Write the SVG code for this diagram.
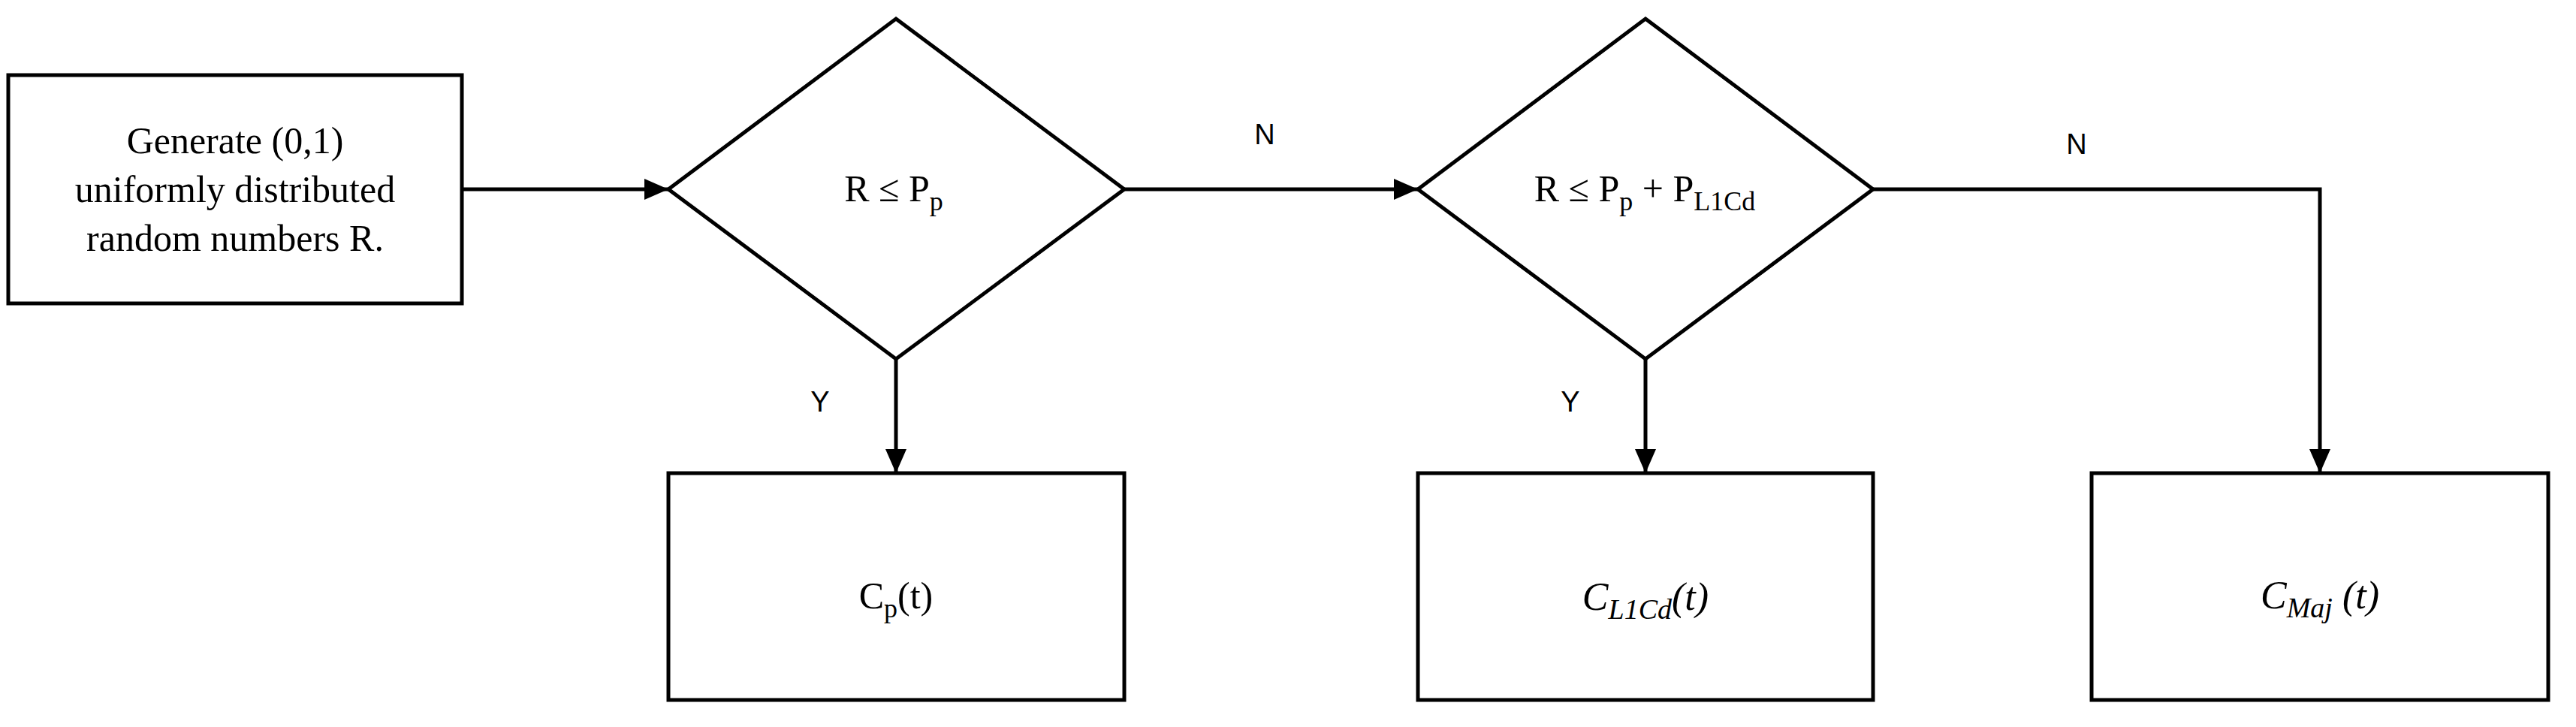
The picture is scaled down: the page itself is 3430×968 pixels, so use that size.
<svg xmlns="http://www.w3.org/2000/svg" width="3430" height="968" viewBox="0 0 3430 968">
<style>
.n{fill:#fff;stroke:#000;stroke-width:5}
.t{font-family:"Liberation Serif",serif;font-size:50px;text-anchor:middle;fill:#000}
.m{font-family:"Liberation Serif",serif;font-style:italic;font-size:52px;text-anchor:middle;fill:#000}
.l{font-family:"Liberation Sans",sans-serif;font-size:38px;text-anchor:middle;fill:#000}
.c{fill:none;stroke:#000;stroke-width:5}
</style>
<defs><marker id="a" markerWidth="10" markerHeight="10" refX="10" refY="5" orient="auto" markerUnits="userSpaceOnUse" viewBox="0 0 10 10"><path d="M0,0L10,5L0,10z" fill="#000"/></marker>
<marker id="b" viewBox="0 0 10 10" refX="10" refY="5" markerWidth="32" markerHeight="28" orient="auto" markerUnits="userSpaceOnUse" preserveAspectRatio="none"><path d="M0,0L10,5L0,10z" fill="#000"/></marker></defs>
<g id="connectors">
<path class="c" d="M615,252H890" marker-end="url(#b)"/>
<path class="c" d="M1497,252H1888" marker-end="url(#b)"/>
<path class="c" d="M1193,478V630" marker-end="url(#b)"/>
<path class="c" d="M2191,478V630" marker-end="url(#b)"/>
<path class="c" d="M2494,252H3089V630" marker-end="url(#b)"/>
<text class="l" x="1684" y="192">N</text>
<text class="l" x="2765" y="205">N</text>
<text class="l" x="1092" y="548">Y</text>
<text class="l" x="2091" y="548">Y</text>
</g>
<g id="gen"><rect class="n" x="11" y="100" width="604" height="304"/>
<text class="t" x="313" y="204">Generate (0,1)</text>
<text class="t" x="313" y="269">uniformly distributed</text>
<text class="t" x="313" y="334">random numbers R.</text></g>
<g id="d1"><path class="n" d="M1193,25L1497,252L1193,478L890,252Z"/>
<text class="t" x="1190" y="268">R ≤ P<tspan font-size="36" dy="12">p</tspan></text></g>
<g id="d2"><path class="n" d="M2191,25L2494,252L2191,478L1888,252Z"/>
<text class="t" x="2190" y="268">R ≤ P<tspan font-size="36" dy="12">p</tspan><tspan dy="-12"> + P</tspan><tspan font-size="36" dy="12">L1Cd</tspan></text></g>
<g id="cp"><rect class="n" x="890" y="630" width="607" height="302"/>
<text class="t" x="1193" y="810">C<tspan font-size="36" dy="12">p</tspan><tspan dy="-12">(t)</tspan></text></g>
<g id="cl"><rect class="n" x="1888" y="630" width="606" height="302"/>
<text class="m" x="2191" y="812">C<tspan font-size="38" dy="12">L1Cd</tspan><tspan dy="-12">(t)</tspan></text></g>
<g id="cm"><rect class="n" x="2785" y="630" width="608" height="302"/>
<text class="m" x="3089" y="810">C<tspan font-size="38" dy="12">Maj</tspan><tspan dy="-12"> (t)</tspan></text></g>
</svg>
